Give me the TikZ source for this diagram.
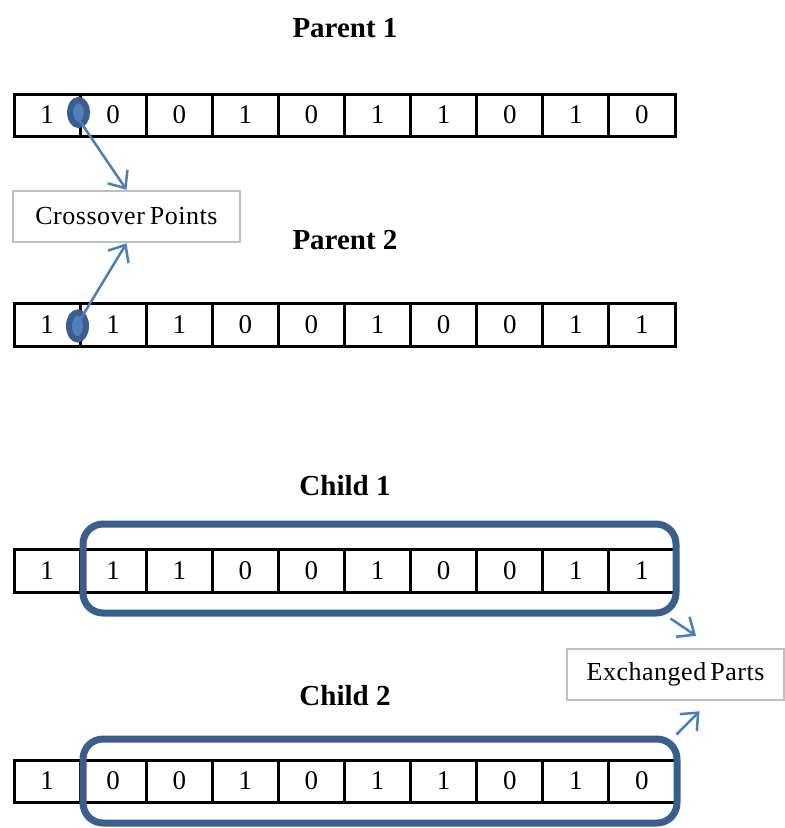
\documentclass[tikz,border=0pt]{standalone}
\usepackage{fontspec}
\setmainfont{Liberation Serif}
\usetikzlibrary{arrows.meta,calc,shapes.geometric}
\definecolor{frameblue}{HTML}{3B5E8C}
\definecolor{pointblue}{HTML}{4F81BD}
\definecolor{arrowblue}{HTML}{4A7EBB}
\definecolor{boxgray}{HTML}{BFBFBF}
\begin{document}
\begin{tikzpicture}[x=1pt,y=-1pt,
  cell/.style={draw=black,line width=3pt,minimum width=66.1pt,minimum height=42pt,inner sep=0pt,font=\fontsize{27}{30}\selectfont},
  title/.style={font=\fontsize{29}{34}\selectfont\bfseries},
  label/.style={draw=boxgray,line width=2.5pt,fill=white,inner sep=0pt,minimum height=51pt,font=\fontsize{26}{30}\selectfont\addfontfeatures{LetterSpace=2}},
  xpoint/.style={ellipse,draw=frameblue,line width=6pt,fill=pointblue,minimum width=17pt,minimum height=25pt,inner sep=0pt},
  group/.style={draw=frameblue,line width=7pt,rounded corners=20pt,inner sep=0pt},
  arr/.style={draw=arrowblue,line width=2.5pt,-{Straight Barb[length=14pt,width=24pt]}}]
\fill[white] (0,0) rectangle (785,828);
\useasboundingbox (0,0) rectangle (785,828);

% titles
\node[title] (t1) at (345,28)  {Parent 1};
\node[title] (t2) at (345,240) {Parent 2};
\node[title] (t3) at (345,486) {Child 1};
\node[title] (t4) at (345,696) {Child 2};

% chromosomes
\foreach \v [count=\i] in {1,0,0,1,0,1,1,0,1,0}
  \node[cell] (pa\i) at ({14+66.1*(\i-0.5)},115) {\v};
\foreach \v [count=\i] in {1,1,1,0,0,1,0,0,1,1}
  \node[cell,minimum height=43pt] (pb\i) at ({14+66.1*(\i-0.5)},324.5) {\v};
\foreach \v [count=\i] in {1,1,1,0,0,1,0,0,1,1}
  \node[cell,minimum height=43pt] (ca\i) at ({14+66.1*(\i-0.5)},570.5) {\v};
\foreach \v [count=\i] in {1,0,0,1,0,1,1,0,1,0}
  \node[cell] (cb\i) at ({14+66.1*(\i-0.5)},781) {\v};

% labels
\node[label,minimum width=227pt] (cp) at (126.5,216.5) {Crossover\hspace{5pt}Points};
\node[label,minimum width=217pt] (ex) at (675.5,674.5) {Exchanged\hspace{4pt}Parts};

% crossover points
\node[xpoint] (e1) at (78.5,112.5) {};
\node[xpoint,minimum height=27pt] (e2) at (77.5,326) {};
\draw[arr] (e1.center) ++(1,8) -- (cp.north);
\draw[arr] (e2.center) ++(0,-2) -- (cp.south);

% exchanged segments
\node[group,minimum width=593pt,minimum height=89pt] (g1) at (379.5,568.5) {};
\node[group,minimum width=594pt,minimum height=84pt] (g2) at (380,781) {};
\draw[arr] ($(g1.south east)+(-9,2)$) -- ($(ex.north)+(20.5,-12)$);
\draw[arr] ($(g2.north east)+(-4,-1)$) -- ($(ex.south)+(24,10)$);
\end{tikzpicture}
\end{document}
